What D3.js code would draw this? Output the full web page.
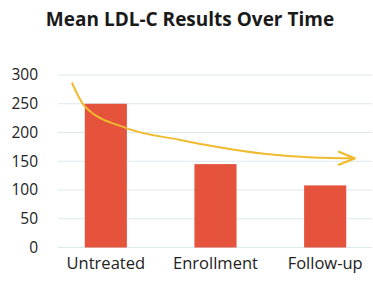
<!DOCTYPE html>
<html><head><meta charset="utf-8">
<script src="https://cdn.jsdelivr.net/npm/d3@7"></script>
<style>
html,body{margin:0;padding:0;background:#fff;}
svg{display:block;font-family:"Open Sans",sans-serif;}
</style></head>
<body>
<svg id="c" width="373" height="283"></svg>
<script>
const title = "Mean LDL-C Results Over Time";
const categories = ["Untreated", "Enrollment", "Follow-up"];
const values = [250, 145, 108];
const yTicks = [0, 50, 100, 150, 200, 250, 300];
// decorative trend arrow: [category index position, value]
const trendPos = [-0.31, -0.19, 0.18, 0.68, 0.98, 1.44, 1.89, 2.27];
const trendVal = [287, 245, 208, 187, 176, 163, 156.5, 155];

const svg = d3.select("#c");
const x = d3.scaleBand().domain(categories).range([51, 380]).paddingInner(0.616).paddingOuter(0.308);
const y = d3.scaleLinear().domain([0, 300]).range([247.5, 75]);
const xi = d3.scaleLinear().domain([0, 2])
  .range([x(categories[0]) + x.bandwidth()/2, x(categories[2]) + x.bandwidth()/2]);

svg.append("text").attr("x", 190).attr("y", 26).attr("text-anchor", "middle")
  .attr("font-size", 19).attr("font-weight", "bold").attr("fill", "#1a1a1a").text(title);

// grid
svg.append("g").selectAll("line").data(yTicks).join("line")
  .attr("x1", 58).attr("x2", 372)
  .attr("y1", d => y(d)).attr("y2", d => y(d))
  .attr("stroke", "#dce9ef").attr("stroke-width", 1);

// y labels
svg.append("g").selectAll("text").data(yTicks).join("text")
  .attr("x", 38).attr("y", d => y(d)).attr("dy", "0.35em")
  .attr("text-anchor", "end").attr("font-size", 15.5).attr("fill", "#222")
  .text(d => d);

// bars
svg.append("g").selectAll("rect").data(values).join("rect")
  .attr("x", (d, i) => x(categories[i])).attr("width", x.bandwidth())
  .attr("y", d => y(d)).attr("height", d => y(0) - y(d))
  .attr("fill", "#e5533d");

// x labels
svg.append("g").selectAll("text").data(categories).join("text")
  .attr("x", d => x(d) + x.bandwidth()/2).attr("y", 269)
  .attr("text-anchor", "middle").attr("font-size", 16.5).attr("fill", "#222")
  .text(d => d);

// arrow marker
svg.append("defs").append("marker").attr("id", "arr")
  .attr("viewBox", "0 0 20 16").attr("refX", 18).attr("refY", 8)
  .attr("markerWidth", 20).attr("markerHeight", 16).attr("markerUnits", "userSpaceOnUse")
  .attr("orient", "auto")
  .append("path").attr("d", "M2,1.5 L18,8 L2,14.5")
  .attr("fill", "none").attr("stroke", "#f0bb2f").attr("stroke-width", 2.2)
  .attr("stroke-linecap", "round").attr("stroke-linejoin", "round");

const pts = trendPos.map((p, i) => [xi(p), y(trendVal[i])]);
svg.append("path").attr("d", d3.line().curve(d3.curveMonotoneX)(pts))
  .attr("fill", "none").attr("stroke", "#f0bb2f").attr("stroke-width", 2)
  .attr("marker-end", "url(#arr)");
</script>
</body></html>
